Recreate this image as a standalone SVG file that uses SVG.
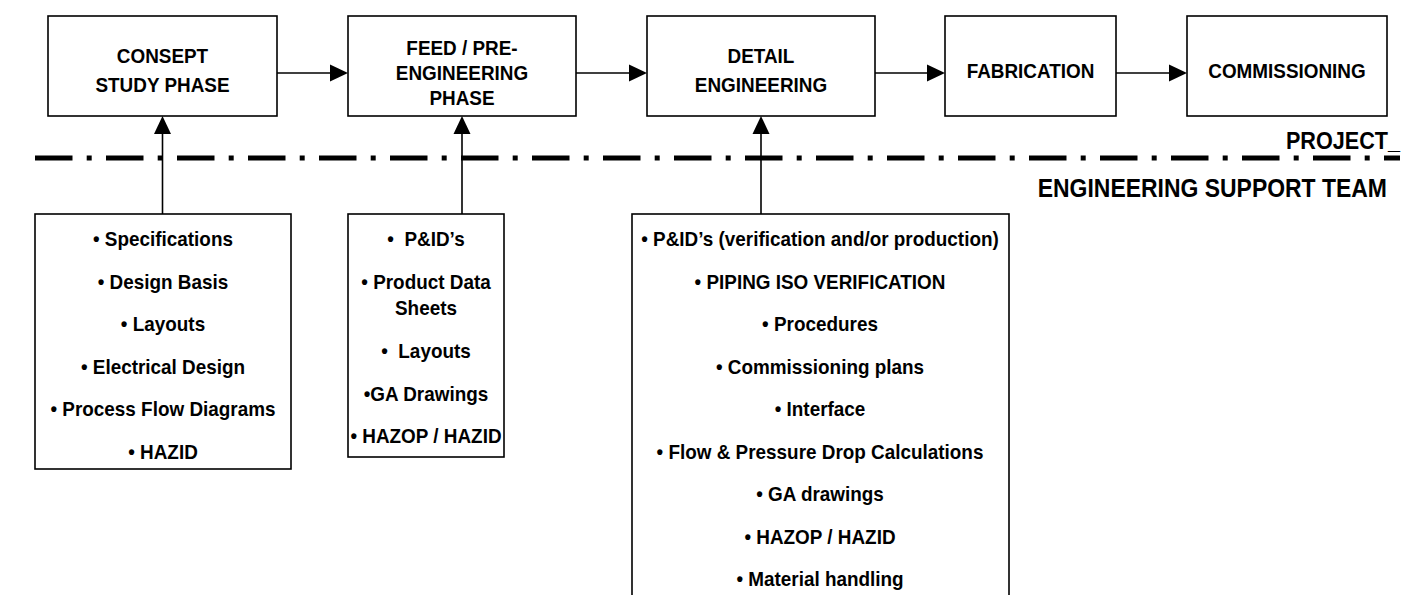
<svg xmlns="http://www.w3.org/2000/svg" width="1408" height="595" viewBox="0 0 1408 595">
<style>
.box{fill:#fff;stroke:#000;stroke-width:1.6}
.t{font-family:"Liberation Sans",Arial,sans-serif;font-weight:bold;font-size:21px;fill:#000;text-anchor:middle}
.lbl{font-family:"Liberation Sans",Arial,sans-serif;font-weight:bold;fill:#000;text-anchor:end}
.ln{stroke:#000;stroke-width:1.6;fill:none}
.ah{fill:#000}
</style>
<rect width="1408" height="595" fill="#fff"/>
<g id="divider">
<line x1="35" y1="158" x2="1400" y2="158" stroke="#000" stroke-width="5" stroke-dasharray="37.5 14.2 5 14.3"/>
<g transform="scale(0.9,1)">
<text class="lbl" x="1555.56" y="149" font-size="24">PROJECT_</text>
<text class="lbl" x="1541.11" y="197" font-size="25.5">ENGINEERING SUPPORT TEAM</text>
</g>
</g>
<g id="connectors">
<line class="ln" x1="277" y1="73" x2="332" y2="73"/><polygon class="ah" points="348,73 330,64.5 330,81.5"/>
<line class="ln" x1="576" y1="73" x2="631" y2="73"/><polygon class="ah" points="647,73 629,64.5 629,81.5"/>
<line class="ln" x1="875" y1="73" x2="929" y2="73"/><polygon class="ah" points="945,73 927,64.5 927,81.5"/>
<line class="ln" x1="1116" y1="73" x2="1171" y2="73"/><polygon class="ah" points="1187,73 1169,64.5 1169,81.5"/>
<line class="ln" x1="162.5" y1="214" x2="162.5" y2="132"/><polygon class="ah" points="162.5,116 154,134 171,134"/>
<line class="ln" x1="462" y1="214" x2="462" y2="132"/><polygon class="ah" points="462,116 453.5,134 470.5,134"/>
<line class="ln" x1="761" y1="214" x2="761" y2="132"/><polygon class="ah" points="761,116 752.5,134 769.5,134"/>
</g>
<g id="n1"><rect class="box" x="48" y="16" width="229" height="100"/>
<g transform="scale(0.9,1)"><text class="t" x="180.56" y="63">CONSEPT</text><text class="t" x="180.56" y="92">STUDY PHASE</text></g></g>
<g id="n2"><rect class="box" x="348" y="16" width="228" height="100"/>
<g transform="scale(0.9,1)"><text class="t" x="513.33" y="55">FEED / PRE-</text><text class="t" x="513.33" y="80">ENGINEERING</text><text class="t" x="513.33" y="105">PHASE</text></g></g>
<g id="n3"><rect class="box" x="647" y="16" width="228" height="100"/>
<g transform="scale(0.9,1)"><text class="t" x="845.56" y="63">DETAIL</text><text class="t" x="845.56" y="92">ENGINEERING</text></g></g>
<g id="n4"><rect class="box" x="945" y="16" width="171" height="100"/>
<g transform="scale(0.9,1)"><text class="t" x="1145" y="78">FABRICATION</text></g></g>
<g id="n5"><rect class="box" x="1187" y="16" width="200" height="100"/>
<g transform="scale(0.9,1)"><text class="t" x="1430" y="78">COMMISSIONING</text></g></g>
<g id="n6"><rect class="box" x="35" y="214" width="256" height="255"/>
<g transform="scale(0.9,1)">
<text class="t" x="181.11" y="246">• Specifications</text>
<text class="t" x="181.11" y="289">• Design Basis</text>
<text class="t" x="181.11" y="331">• Layouts</text>
<text class="t" x="181.11" y="374">• Electrical Design</text>
<text class="t" x="181.11" y="416">• Process Flow Diagrams</text>
<text class="t" x="181.11" y="459">• HAZID</text></g></g>
<g id="n7"><rect class="box" x="348" y="214" width="156" height="243"/>
<g transform="scale(0.9,1)">
<text class="t" x="473.33" y="246" xml:space="preserve">•  P&amp;ID’s</text>
<text class="t" x="473.33" y="289">• Product Data</text>
<text class="t" x="473.33" y="315">Sheets</text>
<text class="t" x="473.33" y="358" xml:space="preserve">•  Layouts</text>
<text class="t" x="473.33" y="401">•GA Drawings</text>
<text class="t" x="473.33" y="443">• HAZOP / HAZID</text></g></g>
<g id="n8"><rect class="box" x="632" y="214" width="377" height="400"/>
<g transform="scale(0.9,1)">
<text class="t" x="911.11" y="246">• P&amp;ID’s (verification and/or production)</text>
<text class="t" x="911.11" y="289">• PIPING ISO VERIFICATION</text>
<text class="t" x="911.11" y="331">• Procedures</text>
<text class="t" x="911.11" y="374">• Commissioning plans</text>
<text class="t" x="911.11" y="416">• Interface</text>
<text class="t" x="911.11" y="459">• Flow &amp; Pressure Drop Calculations</text>
<text class="t" x="911.11" y="501">• GA drawings</text>
<text class="t" x="911.11" y="544">• HAZOP / HAZID</text>
<text class="t" x="911.11" y="586">• Material handling</text></g></g>
</svg>
